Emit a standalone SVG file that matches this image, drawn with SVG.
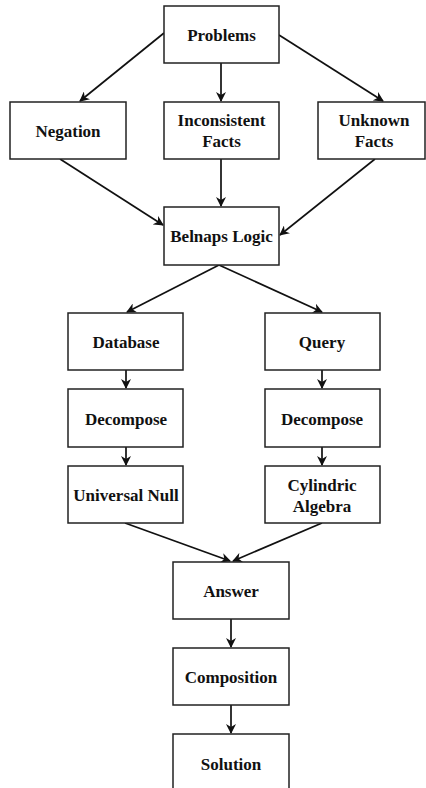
<svg xmlns="http://www.w3.org/2000/svg" width="426" height="788" viewBox="0 0 426 788">
<defs>
<style>
.box{fill:#fff;stroke:#222;stroke-width:1.5}
.t{font-family:"Liberation Serif","Times New Roman",serif;font-weight:bold;font-size:17px;fill:#111;text-anchor:middle}
.c{stroke:#111;stroke-width:1.7;fill:none;marker-end:url(#a)}
</style>
<marker id="a" viewBox="0 0 10 10" refX="9" refY="5" markerWidth="10" markerHeight="10" markerUnits="userSpaceOnUse" orient="auto">
<path d="M0,0 L10,5 L0,10 L3,5 Z" fill="#111"/>
</marker>
</defs>
<rect width="426" height="788" fill="#fff"/>
<g id="connectors">
<line class="c" x1="164" y1="33" x2="80" y2="101"/>
<line class="c" x1="221" y1="63" x2="221" y2="101"/>
<line class="c" x1="279" y1="35" x2="383" y2="101"/>
<line class="c" x1="60" y1="159" x2="163" y2="225"/>
<line class="c" x1="221" y1="159" x2="221" y2="206"/>
<line class="c" x1="375" y1="159" x2="280" y2="235"/>
<line class="c" x1="219" y1="265" x2="127" y2="312"/>
<line class="c" x1="219" y1="265" x2="322" y2="312"/>
<line class="c" x1="126" y1="370" x2="126" y2="388"/>
<line class="c" x1="322" y1="370" x2="322" y2="388"/>
<line class="c" x1="126" y1="447" x2="126" y2="465"/>
<line class="c" x1="322" y1="447" x2="322" y2="465"/>
<line class="c" x1="125" y1="523" x2="230" y2="561"/>
<line class="c" x1="322" y1="523" x2="233" y2="561"/>
<line class="c" x1="231" y1="619" x2="231" y2="647"/>
<line class="c" x1="231" y1="705" x2="231" y2="733"/>
</g>
<g id="problems"><rect class="box" x="164" y="6" width="115" height="57"/><text class="t" x="221.5" y="41">Problems</text></g>
<g id="negation"><rect class="box" x="10" y="102" width="116" height="57"/><text class="t" x="68" y="137">Negation</text></g>
<g id="inconsistent"><rect class="box" x="164" y="102" width="115" height="57"/><text class="t" x="221.5" y="126">Inconsistent</text><text class="t" x="221.5" y="147">Facts</text></g>
<g id="unknown"><rect class="box" x="318" y="102" width="107" height="57"/><text class="t" x="374" y="126">Unknown</text><text class="t" x="374" y="147">Facts</text></g>
<g id="belnaps"><rect class="box" x="164" y="207" width="115" height="58"/><text class="t" x="221.5" y="242">Belnaps Logic</text></g>
<g id="database"><rect class="box" x="68" y="313" width="115" height="57"/><text class="t" x="126" y="348">Database</text></g>
<g id="query"><rect class="box" x="265" y="313" width="115" height="57"/><text class="t" x="322" y="348">Query</text></g>
<g id="decompose1"><rect class="box" x="68" y="389" width="115" height="58"/><text class="t" x="126" y="425">Decompose</text></g>
<g id="decompose2"><rect class="box" x="265" y="389" width="115" height="58"/><text class="t" x="322" y="425">Decompose</text></g>
<g id="universal"><rect class="box" x="68" y="466" width="115" height="57"/><text class="t" x="126" y="501">Universal Null</text></g>
<g id="cylindric"><rect class="box" x="265" y="466" width="115" height="57"/><text class="t" x="322" y="491">Cylindric</text><text class="t" x="322" y="512">Algebra</text></g>
<g id="answer"><rect class="box" x="173" y="562" width="116" height="57"/><text class="t" x="231" y="597">Answer</text></g>
<g id="composition"><rect class="box" x="173" y="648" width="116" height="57"/><text class="t" x="231" y="683">Composition</text></g>
<g id="solution"><rect class="box" x="173" y="734" width="116" height="60"/><text class="t" x="231" y="770">Solution</text></g>
</svg>
